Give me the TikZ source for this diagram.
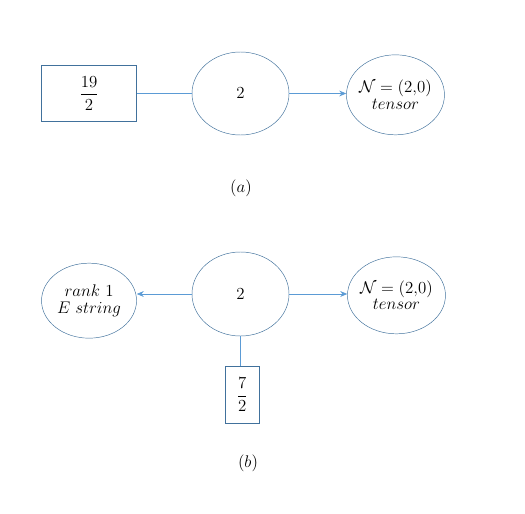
\documentclass[tikz,border=0pt]{standalone}
\usepackage{amsmath}
\usepackage{amssymb}
\usepackage{tikz}
\usetikzlibrary{positioning}
\usetikzlibrary{arrows.meta}
\usetikzlibrary{shapes.geometric}

\definecolor{rimblue}{HTML}{41719C}
\definecolor{lineblue}{HTML}{5B9BD5}

\begin{document}
\begin{tikzpicture}[font=\fontsize{13.5}{14}\selectfont,
    oval/.style={draw=rimblue, ellipse, inner sep=-6pt, align=center},
    flavour/.style={draw=rimblue, rectangle, inner sep=0pt},
    link/.style={draw=lineblue, line width=0.6pt},
    flow/.style={link, -{Stealth[length=6pt, width=5pt]}}]

    \useasboundingbox (0,0) rectangle (15.75,-15.42);

    % (a)
    \node [oval, minimum width=2.91cm, minimum height=2.49cm] (gauge-a) at (7.215,-2.805) {$2$};
    \node [flavour, minimum width=2.85cm, minimum height=1.68cm, left=1.65cm of gauge-a] (fl-a) {$\dfrac{19}{2}$};
    \node [oval, minimum width=2.94cm, minimum height=2.4cm, right=1.71cm of gauge-a, yshift=-0.04cm] (tensor-a) {$\mathcal{N}=(2{,}0)$\\ $tensor$};

    \draw [link] (fl-a) -- (gauge-a);
    \draw [flow] (gauge-a) -- (gauge-a -| tensor-a.west);

    \node (lab-a) at (7.23,-5.64) {$(a)$};

    % (b)
    \node [oval, minimum width=2.91cm, minimum height=2.52cm] (gauge-b) at (7.215,-8.82) {$2$};
    \node [oval, minimum width=2.85cm, minimum height=2.25cm, left=1.65cm of gauge-b, yshift=-0.2cm] (estr-b) {$rank\ 1$\\ $E\ string$};
    \node [oval, minimum width=2.94cm, minimum height=2.31cm, right=1.74cm of gauge-b, yshift=-0.04cm] (tensor-b) {$\mathcal{N}=(2{,}0)$\\ $tensor$};
    \node [flavour, minimum width=1.02cm, minimum height=1.71cm, below=0.9cm of gauge-b, xshift=0.05cm] (fl-b) {$\dfrac{7}{2}$};

    \draw [flow] (gauge-b) -- (gauge-b -| estr-b.east);
    \draw [flow] (gauge-b) -- (gauge-b -| tensor-b.west);
    \draw [link] (gauge-b.south) -- (gauge-b.south |- fl-b.north);

    \node (lab-b) at (7.44,-13.89) {$(b)$};

\end{tikzpicture}
\end{document}
